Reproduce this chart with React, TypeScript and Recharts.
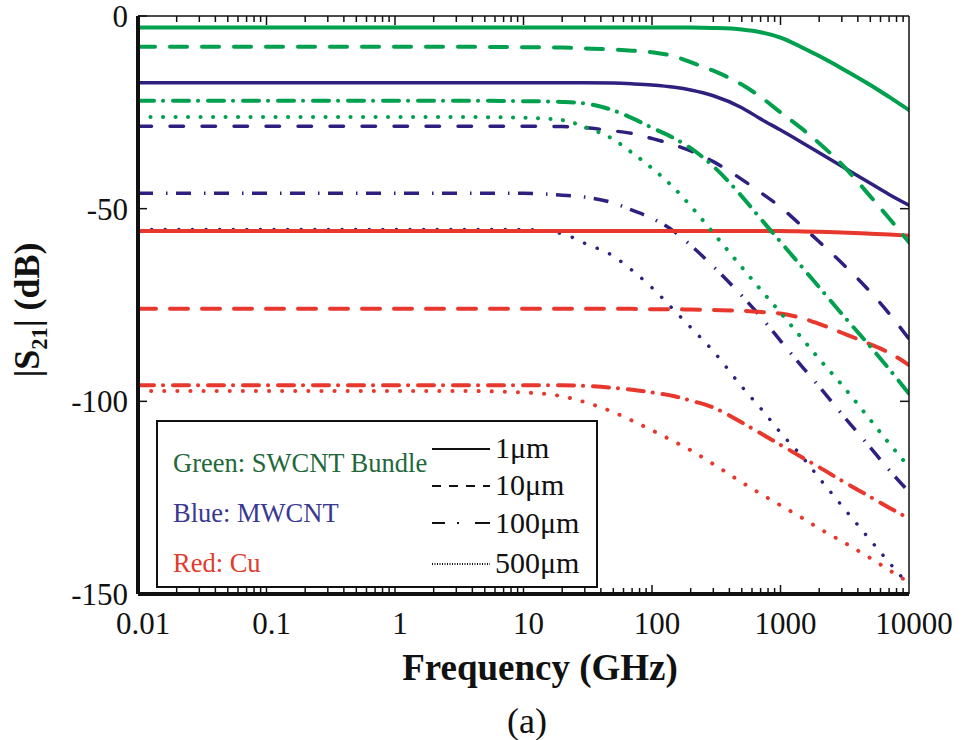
import React from 'react'
import { LineChart, Line, XAxis, YAxis } from 'recharts'

// frequency grid (GHz)
const freq = [0.01, 0.1, 1, 3, 10, 20, 30, 50, 70, 100, 150, 200, 300, 500, 700, 1000, 1500, 2000, 3000, 5000, 7000, 10000]

// |S21| in dB
const swcnt1 = [-3, -3, -3, -3, -3, -3, -3, -3, -3, -3, -3, -3, -3.1, -3.5, -4.2, -5.6, -8.3, -10.4, -13.6, -17.9, -21, -24.4]
const swcnt10 = [-8, -8, -8, -8, -8.1, -8.2, -8.4, -8.7, -9, -9.4, -10.5, -12, -14.2, -17.8, -21, -25, -29.5, -33, -38.5, -46.8, -52.5, -58.7]
const swcnt100 = [-22, -22, -22, -22, -22.1, -22.3, -22.7, -24.5, -26.5, -29, -31.8, -34.3, -39, -46.8, -52.6, -58.6, -65.5, -70.4, -77.3, -85.8, -91.6, -98]
const swcnt500 = [-26.2, -26.2, -26.2, -26.2, -26.4, -27, -28.8, -32, -35.5, -39.5, -44.8, -49.3, -56.3, -65.2, -71, -77, -84, -89, -95.7, -104.8, -110.9, -117]

const mwcnt1 = [-17.3, -17.3, -17.3, -17.3, -17.3, -17.3, -17.3, -17.4, -17.6, -17.9, -18.5, -19.2, -20.7, -23.8, -26.7, -29.6, -33, -35.5, -39, -43.4, -46.3, -49.1]
const mwcnt10 = [-28.6, -28.6, -28.6, -28.6, -28.6, -28.7, -29, -29.8, -30.5, -31.8, -33.5, -35, -37.8, -42.4, -45.8, -49.6, -54.8, -58.6, -64.1, -71.6, -77.2, -83.8]
const mwcnt100 = [-46, -46, -46, -46, -46, -46.5, -47, -48.5, -50.4, -52.5, -56, -59.5, -65, -72.6, -78, -84.3, -91.3, -96.2, -103.3, -112, -117.8, -123.5]
const mwcnt500 = [-55.4, -55.4, -55.4, -55.4, -55.4, -56.5, -59, -62.3, -66, -70.5, -76.5, -80.8, -87, -96.2, -101.8, -108.1, -114.7, -119.9, -127.1, -136, -141.8, -147.8]

const cu1 = [-55.8, -55.8, -55.8, -55.8, -55.8, -55.8, -55.8, -55.8, -55.8, -55.8, -55.8, -55.8, -55.8, -55.8, -55.8, -55.8, -55.9, -56, -56.2, -56.5, -56.7, -57]
const cu10 = [-76, -76, -76, -76, -76, -76, -76, -76, -76, -76.1, -76.1, -76.2, -76.3, -76.5, -76.8, -77.2, -78.5, -79.9, -82.2, -85.2, -87.4, -90.6]
const cu100 = [-95.8, -95.8, -95.8, -95.8, -95.8, -95.8, -96, -96.5, -97, -97.7, -98.7, -99.8, -101.6, -105.5, -108.3, -111.3, -114.7, -117.1, -120.6, -124.8, -127.6, -130.4]
const cu500 = [-97.3, -97.3, -97.3, -97.3, -97.7, -98.7, -100.2, -102.8, -105, -107.5, -110.5, -112.7, -116.3, -121, -124, -127, -130.4, -133, -136.3, -140.7, -143.8, -147]

const majorTicks = [0.01, 0.1, 1, 10, 100, 1000, 10000]
const majorLabels = ['0.01', '0.1', '1', '10', '100', '1000', '10000']
const yTicks = [0, -50, -100, -150]
const yLabels = ['0', '-50', '-100', '-150']
const minorTicks = majorTicks.slice(0, -1).flatMap((d) => [2, 3, 4, 5, 6, 7, 8, 9].map((k) => +(k * d).toPrecision(3)))
const allXTicks = [...majorTicks, ...minorTicks].sort((a, b) => a - b)

const legendGroups = ['Green: SWCNT Bundle', 'Blue: MWCNT', 'Red: Cu']
const legendLengths = ['1μm', '10μm', '100μm', '500μm']

const data = freq.map((f, i) => ({
  f,
  g1: swcnt1[i], g10: swcnt10[i], g100: swcnt100[i], g500: swcnt500[i],
  b1: mwcnt1[i], b10: mwcnt10[i], b100: mwcnt100[i], b500: mwcnt500[i],
  r1: cu1[i], r10: cu10[i], r100: cu100[i], r500: cu500[i],
}))

const GREEN = '#00A04E'
const BLUE = '#2F2080'
const RED = '#E8372D'
const INK = '#111'
const serif = '"Liberation Serif", "Times New Roman", serif'

const CHART_W = 969
const CHART_H = 740
const MARGIN = { top: 15, right: 59, bottom: 145, left: 137 }
// plot height: chart minus margins and the 1px top/bottom axes
const PLOT_H = CHART_H - MARGIN.top - MARGIN.bottom - 2

type Series = { key: string; color: string; width: number; dash?: string; cap: 'round' | 'butt' }

// drawing order: blue, red, green
const series: Series[] = [
  { key: 'b1', color: BLUE, width: 3.5, cap: 'round' },
  { key: 'b10', color: BLUE, width: 3.5, dash: '13.5 18.5', cap: 'round' },
  { key: 'b100', color: BLUE, width: 3.5, dash: '15 13 1.5 8.5', cap: 'butt' },
  { key: 'b500', color: BLUE, width: 3.5, dash: '0.1 13.5', cap: 'round' },
  { key: 'r1', color: RED, width: 4, cap: 'round' },
  { key: 'r10', color: RED, width: 4, dash: '18 14', cap: 'round' },
  { key: 'r100', color: RED, width: 4, dash: '16 9 0.1 9.9', cap: 'round' },
  { key: 'r500', color: RED, width: 4, dash: '0.1 13', cap: 'round' },
  { key: 'g1', color: GREEN, width: 4, cap: 'round' },
  { key: 'g10', color: GREEN, width: 4, dash: '17 15', cap: 'round' },
  { key: 'g100', color: GREEN, width: 4, dash: '16 9 0.1 9.9', cap: 'round' },
  { key: 'g500', color: GREEN, width: 4, dash: '0.1 12.4', cap: 'round' },
]

// axes need a non-zero size to be drawn; 1px each, margins account for it
const logAxis = {
  type: 'number' as const,
  scale: 'log' as const,
  domain: [0.01, 10000],
  allowDataOverflow: true,
  interval: 0 as const,
  height: 1,
  tickSize: 0,
  tickMargin: 0,
  tickLine: false,
}

const blank = () => ''

type TickProps = { x: number; y: number; payload: { value: number } }

// inward x ticks on the bottom and top frame edges, plus the decade labels
const FrameTick = ({ x, y, payload }: TickProps) => {
  const idx = majorTicks.indexOf(payload.value)
  const edge = idx === 0 || idx === majorTicks.length - 1
  const len = idx >= 0 ? 9 : 6
  const top = y - PLOT_H
  return (
    <g>
      {!edge && <line x1={x} x2={x} y1={y} y2={y - len} stroke={INK} strokeWidth={1.5} />}
      {!edge && <line x1={x} x2={x} y1={top} y2={top + len} stroke={INK} strokeWidth={1.5} />}
      {idx >= 0 && (
        <text x={x + 5} y={y + 40} textAnchor="middle" fill={INK} fontSize={31} fontFamily={serif}>
          {majorLabels[idx]}
        </text>
      )}
    </g>
  )
}

export default function App() {
  return (
    <div style={{ position: 'absolute', left: 0, top: 0, width: CHART_W, height: CHART_H, background: '#fff', fontFamily: serif, color: INK }}>
      <LineChart width={CHART_W} height={CHART_H} data={data} margin={MARGIN}>
        <XAxis
          {...logAxis}
          dataKey="f"
          ticks={allXTicks}
          tick={(p: TickProps) => <FrameTick {...p} />}
          axisLine={{ stroke: INK, strokeWidth: 4 }}
        />
        <XAxis {...logAxis} xAxisId="top" orientation="top" ticks={majorTicks} tick={false}
          axisLine={{ stroke: INK, strokeWidth: 1.5 }} />
        <YAxis
          type="number"
          domain={[-150, 0]}
          allowDataOverflow
          ticks={yTicks}
          interval={0}
          width={1}
          tickSize={-9}
          tickMargin={19}
          tickFormatter={(v: number) => yLabels[yTicks.indexOf(v)] ?? ''}
          tick={{ fill: INK, fontSize: 31, fontFamily: serif }}
          axisLine={{ stroke: INK, strokeWidth: 4 }}
          tickLine={{ stroke: INK, strokeWidth: 1.5 }}
        />
        <YAxis yAxisId="right" orientation="right" type="number" domain={[-150, 0]} allowDataOverflow
          ticks={[-50, -100]} interval={0} width={1} tickSize={-9} tickFormatter={blank}
          axisLine={{ stroke: INK, strokeWidth: 1.5 }} tickLine={{ stroke: INK, strokeWidth: 1.5 }} />
        {series.map((s) => (
          <Line
            key={s.key}
            type="monotone"
            dataKey={s.key}
            stroke={s.color}
            strokeWidth={s.width}
            strokeDasharray={s.dash}
            strokeLinecap={s.cap}
            dot={false}
            activeDot={false}
            isAnimationActive={false}
          />
        ))}
      </LineChart>

      {/* axis titles */}
      <div style={{ position: 'absolute', left: 30, top: 310, transform: 'translate(-50%, -50%) rotate(-90deg)', fontSize: 36, fontWeight: 'bold', whiteSpace: 'nowrap', lineHeight: 1 }}>
        |S<sub style={{ fontSize: '0.62em' }}>21</sub>| (dB)
      </div>
      <div style={{ position: 'absolute', left: 540, top: 667, transform: 'translate(-50%, -50%)', fontSize: 37, fontWeight: 'bold', whiteSpace: 'nowrap', lineHeight: 1 }}>
        Frequency (GHz)
      </div>
      <div style={{ position: 'absolute', left: 527, top: 721, transform: 'translate(-50%, -50%)', fontSize: 36, whiteSpace: 'nowrap', lineHeight: 1 }}>
        (a)
      </div>

      {/* legend box */}
      <div style={{ position: 'absolute', left: 156, top: 420, width: 442, height: 168, boxSizing: 'border-box', border: '2px solid #111', background: '#fff' }} />
      {legendGroups.map((t, i) => (
        <div key={t} style={{ position: 'absolute', left: 173, top: [463, 513, 563][i], transform: 'translateY(-50%)', fontSize: 26.5, lineHeight: 1, whiteSpace: 'nowrap', color: ['#22683A', '#3A3892', '#E23A2C'][i] }}>
          {t}
        </div>
      ))}
      <svg style={{ position: 'absolute', left: 425, top: 430 }} width={75} height={150}>
        <line x1={7} x2={65} y1={19} y2={19} stroke={INK} strokeWidth={2} />
        <line x1={7} x2={65} y1={56} y2={56} stroke={INK} strokeWidth={2} strokeDasharray="9 8" />
        <line x1={7} x2={65} y1={93} y2={93} stroke={INK} strokeWidth={2} strokeDasharray="13 12 2 16 15" />
        <line x1={7} x2={65} y1={134} y2={134} stroke={INK} strokeWidth={2} strokeDasharray="1 1.5" />
      </svg>
      {legendLengths.map((t, i) => (
        <div key={t} style={{ position: 'absolute', left: 495, top: [448, 485, 523, 563][i], transform: 'translateY(-50%)', fontSize: 30, lineHeight: 1, whiteSpace: 'nowrap' }}>
          {t}
        </div>
      ))}
    </div>
  )
}
